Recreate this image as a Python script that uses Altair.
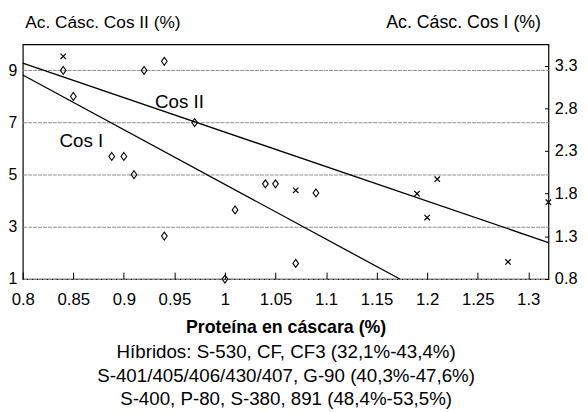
import altair as alt
import pandas as pd

# ---- data ----
# Cos II (left axis) – diamonds
diamond_x = [0.84, 0.85, 0.888, 0.90, 0.91, 0.92, 0.94, 0.94, 0.97, 1.00, 1.01, 1.04, 1.05, 1.07, 1.09]
diamond_y = [9.0, 8.0, 5.7, 5.7, 5.0, 9.0, 9.35, 2.65, 7.0, 1.0, 3.65, 4.65, 4.65, 1.6, 4.3]

# Cos I (right axis) – crosses
cross_x = [0.84, 1.07, 1.19, 1.20, 1.21, 1.28, 1.32]
cross_y = [3.41, 1.84, 1.80, 1.52, 1.97, 1.00, 1.70]

# regression lines (end points)
cos2_line_x = [0.80, 1.32]
cos2_line_y = [9.28, 2.40]     # left axis
cos1_line_x = [0.80, 1.173]
cos1_line_y = [3.19, 0.80]     # right axis

# in-plot labels
cos2_label = ["Cos II"]
cos2_label_x = [0.955]
cos2_label_y = [7.77]
cos1_label = ["Cos I"]
cos1_label_x = [0.858]
cos1_label_y = [2.42]

x_ticks = [0.8, 0.85, 0.9, 0.95, 1.0, 1.05, 1.1, 1.15, 1.2, 1.25, 1.3]
yl_ticks = [1, 3, 5, 7, 9]
yr_ticks = [0.8, 1.3, 1.8, 2.3, 2.8, 3.3]

left_title = "Ac. Cásc. Cos II (%)"
right_title = "Ac. Cásc. Cos I (%)"
x_title = "Proteína en cáscara (%)"
subtitle_lines = [
    "Híbridos: S-530, CF, CF3 (32,1%-43,4%)",
    "S-401/405/406/430/407, G-90 (40,3%-47,6%)",
    "S-400, P-80, S-380, 891 (48,4%-53,5%)",
]

FONT = "Liberation Sans"
W, H = 533, 238

x_scale = alt.Scale(domain=[0.8, 1.32], nice=False, zero=False)
yl_scale = alt.Scale(domain=[1, 10], nice=False, zero=False)
yr_scale = alt.Scale(domain=[0.8, 3.55], nice=False, zero=False)

x_axis_main = alt.Axis(
    orient="bottom", values=x_ticks, format="~g", offset=-7, ticks=True, tickSize=7,
    tickColor="black", tickWidth=1, domain=False, grid=False,
    labelFontSize=17, labelPadding=26, labelBaseline="alphabetic", labelColor="black",
    labelFont=FONT, labelFlush=False,
    title=x_title, titleFontSize=18, titleFontWeight="bold", titleY=61,
    titleBaseline="alphabetic", titleColor="black", titleFont=FONT,
)
x_axis_sub = alt.Axis(
    orient="bottom", labels=False, ticks=False, domain=False, grid=False,
    title=subtitle_lines, titleFontSize=19, titleFontWeight="normal", titleY=80,
    titleBaseline="alphabetic", titleLineHeight=23.5, titleColor="black", titleFont=FONT,
)
yl_axis = alt.Axis(
    orient="left", values=yl_ticks, format="~g", ticks=False, domain=False,
    grid=True, gridColor="#8c8c8c", gridWidth=1, gridDash=[4, 1],
    labelPadding=6, labelFontSize=16, labelColor="black", labelFont=FONT,
    title=left_title, titleAngle=0, titleAlign="left", titleBaseline="middle",
    titleX=2, titleY=-22, titleFontSize=17.5, titleFontWeight="normal",
    titleColor="black", titleFont=FONT,
)
yr_axis = alt.Axis(
    orient="right", values=yr_ticks, format="~g", offset=-4, ticks=True, tickSize=4,
    tickColor="black", domain=False, grid=False,
    labelPadding=6, labelFontSize=16.5, labelColor="black", labelFont=FONT,
    title=right_title, titleAngle=0, titleAlign="right", titleBaseline="middle",
    titleX=-4, titleY=-22, titleFontSize=18, titleFontWeight="normal",
    titleColor="black", titleFont=FONT,
)

DIAMOND = "M0,-1L0.72,0L0,1L-0.72,0Z"
XMARK = "M-1,-1L1,1M-1,1L1,-1"

xl = alt.X("x:Q", scale=x_scale, axis=x_axis_main)
xr = alt.X("x:Q", scale=x_scale, axis=x_axis_sub)
yl = alt.Y("y:Q", scale=yl_scale, axis=yl_axis)
yr = alt.Y("y:Q", scale=yr_scale, axis=yr_axis)

df_d = pd.DataFrame({"x": diamond_x, "y": diamond_y})
df_c = pd.DataFrame({"x": cross_x, "y": cross_y})
df_l2 = pd.DataFrame({"x": cos2_line_x, "y": cos2_line_y})
df_l1 = pd.DataFrame({"x": cos1_line_x, "y": cos1_line_y})
df_t2 = pd.DataFrame({"x": cos2_label_x, "y": cos2_label_y, "t": cos2_label})
df_t1 = pd.DataFrame({"x": cos1_label_x, "y": cos1_label_y, "t": cos1_label})

line2 = alt.Chart(df_l2).mark_line(color="black", strokeWidth=1.3).encode(x=xl, y=yl)
diamonds = alt.Chart(df_d).mark_point(
    shape=DIAMOND, size=64, filled=False, stroke="black", strokeWidth=1.1, opacity=1
).encode(x=xl, y=yl)
text2 = alt.Chart(df_t2).mark_text(
    font=FONT, fontSize=19, color="black", align="center", baseline="middle"
).encode(x=xl, y=yl, text="t:N")

line1 = alt.Chart(df_l1).mark_line(color="black", strokeWidth=1.3).encode(x=xr, y=yr)
crosses = alt.Chart(df_c).mark_point(
    shape=XMARK, size=30, filled=False, stroke="black", strokeWidth=1.2, opacity=1
).encode(x=xr, y=yr)
text1 = alt.Chart(df_t1).mark_text(
    font=FONT, fontSize=19, color="black", align="center", baseline="middle"
).encode(x=xr, y=yr, text="t:N")

left = alt.layer(line2, diamonds, text2)
right = alt.layer(line1, crosses, text1)

chart = (
    alt.layer(left, right)
    .resolve_scale(y="independent")
    .resolve_axis(x="independent", y="independent")
    .properties(
        width=W, height=H,
        autosize=alt.AutoSizeParams(type="none"),
        padding={"left": 15, "top": 34, "right": 32, "bottom": 132},
        background="white",
    )
    .configure_view(stroke="black", strokeWidth=1.2)
    .configure_text(font=FONT)
)

chart.save("out.html", embed_options={"renderer": "svg", "actions": False})
